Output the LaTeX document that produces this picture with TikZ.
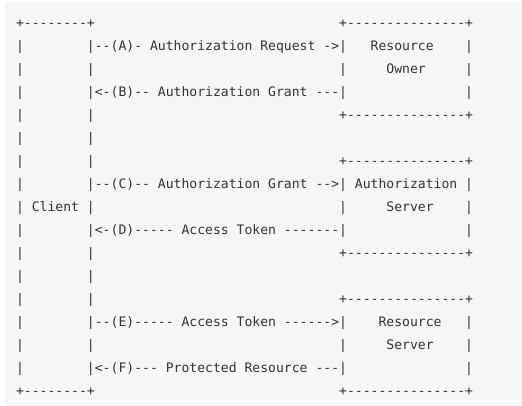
\documentclass[tikz,border=0pt]{standalone}
\usepackage{fontspec}
\setmonofont{DejaVu Sans Mono}
\definecolor{bg}{HTML}{F6F6F6}
\definecolor{ink}{HTML}{333333}
\tikzset{
  txt/.style={anchor=base west, inner sep=0pt, outer sep=0pt,
    font=\ttfamily\fontsize{13.09}{15}\selectfont, text=ink}
}
\newcommand\seg[4]{\node[txt] (#1) at ({16.06pt+#2*7.88pt},{-27.5pt-#3*23pt}) {#4};}
\begin{document}
\begin{tikzpicture}[x=1pt,y=1pt]
\useasboundingbox (0,0) rectangle (522,-406);
\fill[bg, rounded corners=2pt] (5,-2) rectangle (530,-405);
% row 0
\seg{c0a}{0}{0}{+--------+}
\seg{c0b}{41}{0}{+---------------+}
% row 1
\seg{c1a}{0}{1}{|}
\seg{c1b}{9}{1}{|--(A)- Authorization Request ->|}
\seg{c1c}{45}{1}{Resource}
\seg{c1d}{57}{1}{|}
% row 2
\seg{c2a}{0}{2}{|}
\seg{c2b}{9}{2}{|}
\seg{c2c}{41}{2}{|}
\seg{c2d}{47}{2}{Owner}
\seg{c2e}{57}{2}{|}
% row 3
\seg{c3a}{0}{3}{|}
\seg{c3b}{9}{3}{|<-(B)-- Authorization Grant ---|}
\seg{c3c}{57}{3}{|}
% row 4
\seg{c4a}{0}{4}{|}
\seg{c4b}{9}{4}{|}
\seg{c4c}{41}{4}{+---------------+}
% row 5
\seg{c5a}{0}{5}{|}
\seg{c5b}{9}{5}{|}
% row 6
\seg{c6a}{0}{6}{|}
\seg{c6b}{9}{6}{|}
\seg{c6c}{41}{6}{+---------------+}
% row 7
\seg{c7a}{0}{7}{|}
\seg{c7b}{9}{7}{|--(C)-- Authorization Grant -->|}
\seg{c7c}{43}{7}{Authorization}
\seg{c7d}{57}{7}{|}
% row 8
\seg{c8a}{0}{8}{|}
\seg{c8b}{2}{8}{Client}
\seg{c8c}{9}{8}{|}
\seg{c8d}{41}{8}{|}
\seg{c8e}{47}{8}{Server}
\seg{c8f}{57}{8}{|}
% row 9
\seg{c9a}{0}{9}{|}
\seg{c9b}{9}{9}{|<-(D)----- Access Token -------|}
\seg{c9c}{57}{9}{|}
% row 10
\seg{c10a}{0}{10}{|}
\seg{c10b}{9}{10}{|}
\seg{c10c}{41}{10}{+---------------+}
% row 11
\seg{c11a}{0}{11}{|}
\seg{c11b}{9}{11}{|}
% row 12
\seg{c12a}{0}{12}{|}
\seg{c12b}{9}{12}{|}
\seg{c12c}{41}{12}{+---------------+}
% row 13
\seg{c13a}{0}{13}{|}
\seg{c13b}{9}{13}{|--(E)----- Access Token ------>|}
\seg{c13c}{46}{13}{Resource}
\seg{c13d}{57}{13}{|}
% row 14
\seg{c14a}{0}{14}{|}
\seg{c14b}{9}{14}{|}
\seg{c14c}{41}{14}{|}
\seg{c14d}{47}{14}{Server}
\seg{c14e}{57}{14}{|}
% row 15
\seg{c15a}{0}{15}{|}
\seg{c15b}{9}{15}{|<-(F)--- Protected Resource ---|}
\seg{c15c}{57}{15}{|}
% row 16
\seg{c16a}{0}{16}{+--------+}
\seg{c16b}{41}{16}{+---------------+}
\end{tikzpicture}
\end{document}
